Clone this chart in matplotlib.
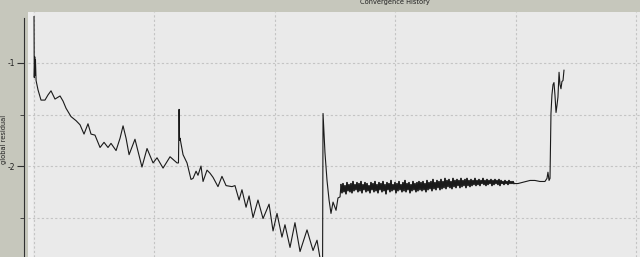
import numpy as np
import matplotlib
matplotlib.use("Agg")
import matplotlib.pyplot as plt

# --- smooth part of the history (iteration, log10 residual) ---
iters_a = [0, 2, 6, 8, 12, 17, 33, 58, 91, 116, 141, 174, 216, 241, 266, 307,
           349, 382, 415, 448, 473, 506, 548, 581, 614, 639, 681, 714, 739, 764,
           789, 838, 896, 938, 988, 1021, 1071, 1129, 1187, 1199, 1204, 1208,
           1212, 1237, 1270, 1303, 1320, 1345, 1361, 1386, 1403, 1436, 1461,
           1486, 1527, 1560, 1594, 1643, 1668, 1702, 1726, 1760, 1785, 1818,
           1859, 1901, 1951, 1984, 2017, 2058, 2083, 2125, 2166, 2208, 2266,
           2316, 2349, 2382, 2395, 2399, 2407, 2415, 2432, 2449, 2465, 2482,
           2507, 2523, 2540]
resid_a = [-0.55, -1.14, -0.94, -1.12, -0.97, -1.17, -1.26, -1.36, -1.36, -1.31,
           -1.27, -1.35, -1.32, -1.37, -1.44, -1.52, -1.56, -1.60, -1.69, -1.59,
           -1.69, -1.70, -1.82, -1.77, -1.82, -1.78, -1.85, -1.73, -1.61, -1.73,
           -1.89, -1.74, -2.01, -1.83, -1.97, -1.92, -2.02, -1.91, -1.97, -1.97,
           -1.45, -1.75, -1.73, -1.89, -1.97, -2.13, -2.12, -2.05, -2.09, -2.00,
           -2.15, -2.04, -2.07, -2.11, -2.20, -2.10, -2.19, -2.20, -2.19, -2.33,
           -2.23, -2.40, -2.29, -2.50, -2.33, -2.51, -2.37, -2.63, -2.46, -2.69,
           -2.57, -2.79, -2.55, -2.83, -2.62, -2.82, -2.72, -2.95, -3.00, -1.49,
           -1.68, -1.87, -2.14, -2.33, -2.46, -2.35, -2.43, -2.31, -2.30]

# --- noisy plateau, one value per sample from it 2548 to 3984 ---
noise_start, noise_end = 2548, 3984
resid_b = [
    -2.18, -2.26, -2.17, -2.25, -2.19, -2.27, -2.16, -2.24, -2.18, -2.25,
    -2.17, -2.26, -2.15, -2.24, -2.18, -2.23, -2.16, -2.25, -2.17, -2.24,
    -2.15, -2.26, -2.18, -2.23, -2.16, -2.25, -2.17, -2.24, -2.19, -2.26,
    -2.16, -2.23, -2.17, -2.25, -2.15, -2.24, -2.18, -2.26, -2.16, -2.23,
    -2.17, -2.25, -2.15, -2.24, -2.18, -2.27, -2.16, -2.23, -2.17, -2.25,
    -2.14, -2.24, -2.18, -2.23, -2.16, -2.26, -2.17, -2.24, -2.15, -2.23,
    -2.18, -2.25, -2.16, -2.24, -2.14, -2.25, -2.17, -2.23, -2.16, -2.26,
    -2.18, -2.24, -2.15, -2.23, -2.17, -2.25, -2.16, -2.24, -2.15, -2.23,
    -2.16, -2.24, -2.15, -2.23, -2.17, -2.25, -2.14, -2.23, -2.16, -2.22,
    -2.15, -2.24, -2.13, -2.22, -2.16, -2.23, -2.14, -2.21, -2.15, -2.23,
    -2.13, -2.22, -2.15, -2.21, -2.12, -2.22, -2.14, -2.20, -2.13, -2.21,
    -2.15, -2.22, -2.12, -2.20, -2.14, -2.21, -2.13, -2.19, -2.14, -2.21,
    -2.12, -2.20, -2.14, -2.19, -2.13, -2.21, -2.12, -2.19, -2.14, -2.20,
    -2.13, -2.19, -2.14, -2.18, -2.12, -2.19, -2.14, -2.18, -2.13, -2.19,
    -2.14, -2.17, -2.12, -2.18, -2.14, -2.19, -2.13, -2.18, -2.14, -2.17,
    -2.13, -2.19, -2.14, -2.18, -2.13, -2.17, -2.14, -2.18, -2.13, -2.19,
    -2.14, -2.17, -2.15, -2.18, -2.14, -2.17, -2.15, -2.18, -2.14, -2.17,
    -2.15, -2.17, -2.15, -2.17]

# --- quiet stretch and final blow-up ---
iters_c = [4017, 4050, 4084, 4117, 4158, 4200, 4241, 4258, 4266, 4275, 4283,
           4287, 4291, 4299, 4308, 4316, 4324, 4333, 4341, 4349, 4358, 4366,
           4374, 4382, 4391, 4399]
resid_c = [-2.17, -2.16, -2.15, -2.14, -2.14, -2.15, -2.15, -2.12, -2.06, -2.14,
           -2.12, -1.82, -1.49, -1.31, -1.21, -1.19, -1.31, -1.48, -1.41, -1.33,
           -1.09, -1.21, -1.25, -1.18, -1.17, -1.07]

iters_b = np.linspace(noise_start, noise_end, len(resid_b))
iters = np.concatenate([iters_a, iters_b, iters_c])
resid = np.concatenate([resid_a, resid_b, resid_c])

frame_bg = "#c6c7bc"
plot_bg = "#eaeaea"

fig = plt.figure(figsize=(6.4, 2.57), dpi=100, facecolor=frame_bg)
ax = fig.add_axes([28 / 640, 0, 1 - 28 / 640, 245 / 257], facecolor=plot_bg)

ax.axvspan(-50, -8, color="#efefef", zorder=0, linewidth=0)
ax.plot(iters, resid, color="#1a1a1a", linewidth=0.8)
# noisy band drawn a bit heavier, as it looks in the solver window
ax.plot(iters_b, resid_b, color="#1a1a1a", linewidth=1.0)

ax.set_xlim(-50, 5030)
ax.set_ylim(-2.883, -0.505)

ax.set_xticks([0, 1000, 2000, 3000, 4000, 5000])
ax.set_yticks([-1, -2])
ax.set_yticks([-1.5, -2.5], minor=True)
ax.set_yticklabels(["-1", "-2"])
ax.grid(True, which="both", color="#c4c4c4", linestyle=(0, (2, 2)), linewidth=0.8)

for side in ["top", "right", "bottom"]:
    ax.spines[side].set_visible(False)
ax.spines["left"].set_position(("outward", 3))
ax.spines["left"].set_bounds(-2.883, -0.56)
ax.spines["left"].set_color("#303030")
ax.tick_params(axis="x", length=0, labelbottom=False)
ax.tick_params(axis="y", which="major", length=5, labelsize=5.5, pad=1,
               color="#303030", labelcolor="#202020")
ax.tick_params(axis="y", which="minor", length=3, color="#303030")

fig.text(4 / 640, 1 - 139 / 257, "global residual", rotation=90, fontsize=4.8,
         ha="center", va="center", color="#202020")
fig.text(395 / 640, 1 - 4 / 257, "Convergence History", fontsize=4.8,
         ha="center", va="baseline", color="#202020")

fig.savefig("out.png", dpi=100, facecolor=frame_bg)
